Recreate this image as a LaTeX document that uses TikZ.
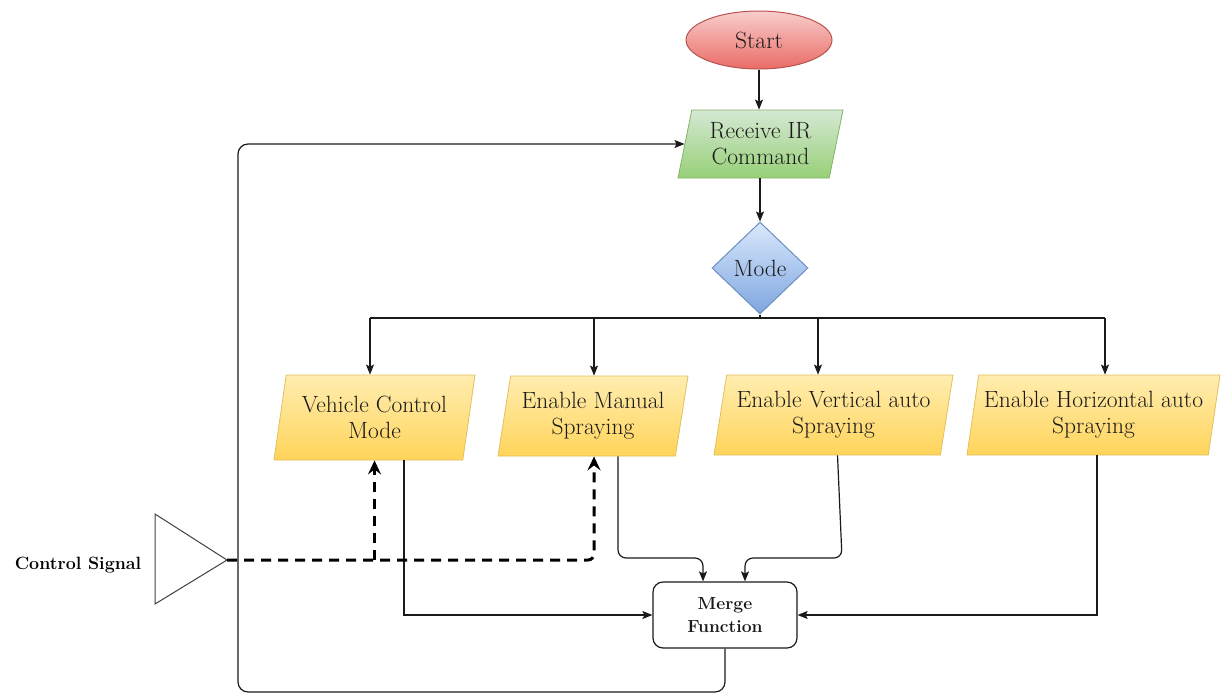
\documentclass[tikz,border=0pt]{standalone}
\usepackage{fontspec}
\usetikzlibrary{shapes.geometric,arrows.meta}
\definecolor{redtop}{HTML}{F8CECC}\definecolor{redbot}{HTML}{EA6B66}\definecolor{redline}{HTML}{B85450}
\definecolor{grntop}{HTML}{D5E8D4}\definecolor{grnbot}{HTML}{97D077}\definecolor{grnline}{HTML}{82B366}
\definecolor{blutop}{HTML}{DAE8FC}\definecolor{blubot}{HTML}{7EA6E0}\definecolor{bluline}{HTML}{6C8EBF}
\definecolor{yeltop}{HTML}{FFEDB0}\definecolor{yelbot}{HTML}{FFD45A}\definecolor{yelline}{HTML}{E0C060}
\definecolor{ink}{HTML}{1A1A1A}
\begin{document}
\begin{tikzpicture}[x=1pt,y=-1pt,
  font=\fontsize{23.5}{26}\selectfont, text=ink,
  line/.style={draw=ink, line width=1.2pt},
  arr/.style={line, -{Stealth[length=10pt,width=8pt,inset=2pt]}},
  dasharr/.style={draw=black, line width=3pt, dash pattern=on 10pt off 7pt, -{Stealth[length=14pt,width=13pt,inset=5pt]}},
  para/.style={trapezium, trapezium left angle=75, trapezium right angle=105,
    trapezium stretches body, inner sep=0pt, align=center, line width=0.8pt},
  yelbox/.style={para, draw=yelline, top color=yeltop, bottom color=yelbot},
]
\useasboundingbox (0,0) rectangle (1222,694);

% nodes
\node[ellipse, draw=redline, line width=1pt, top color=redtop, bottom color=redbot,
  minimum width=146, minimum height=58, inner sep=0] (start) at (759,40) {Start};
\node[para, trapezium left angle=72, trapezium right angle=108, draw=grnline,
  top color=grntop, bottom color=grnbot, minimum width=165, minimum height=68] (recv) at (760.5,144) {Receive IR\\Command};
\node[diamond, draw=bluline, line width=1pt, top color=blutop, bottom color=blubot,
  minimum width=96, minimum height=92, inner sep=0] (mode) at (760,268) {Mode};
\node[yelbox, trapezium left angle=74, trapezium right angle=106, minimum width=201, minimum height=85] (vcm) at (374.5,417.5) {Vehicle Control\\Mode};
\node[yelbox, minimum width=190, minimum height=80] (man) at (593,416) {Enable Manual\\Spraying};
\node[yelbox, minimum width=239, minimum height=80] (vert) at (833.5,415) {Enable Vertical auto\\Spraying};
\node[yelbox, trapezium left angle=76, trapezium right angle=104, minimum width=253, minimum height=80] (hor) at (1093.5,415) {Enable Horizontal auto\\Spraying};
\node[draw=ink, line width=1.2pt, rounded corners=10pt, fill=white, minimum width=144, minimum height=66,
  align=center, font=\bfseries\fontsize{17.5}{22.5}\selectfont] (merge) at (725,615) {Merge\\Function};
\node[font=\bfseries\fontsize{17.8}{22}\selectfont, text=black] (cs) at (78,565) {Control Signal};

% triangle
\coordinate (t1) at (155,514); \coordinate (tip) at (227,560); \coordinate (t3) at (155,604);
\draw[draw=black!75, line width=1pt] (t1) -- (tip) -- (t3) -- cycle;

% flow
\draw[arr] (start.south) -- (start.south |- recv.north);
\draw[arr] (recv.south -| mode.north) -- (mode.north);
\coordinate (busL) at (370,318); \coordinate (busR) at (1105,318);
\coordinate (bus2) at (594,318); \coordinate (bus3) at (818,318);
\draw[line] (mode.south) -- (mode.south |- busL);
\draw[line] (busL) -- (busR);
\draw[arr] (busL) -- (busL |- vcm.north);
\draw[arr] (bus2) -- (bus2 |- man.north);
\draw[arr] (bus3) -- (bus3 |- vert.north);
\draw[arr] (busR) -- (busR |- hor.north);

% to merge
\coordinate (mj1) at (703,558); \coordinate (mj2) at (745,558); \coordinate (vj) at (842,558);
\draw[arr] ([xshift=29.5pt]vcm.south) |- (merge.west);
\draw[arr, rounded corners=8pt] ([xshift=25pt]man.south) |- (mj1) -- (mj1 |- merge.north);
\draw[arr, rounded corners=8pt] ([xshift=4pt]vert.south) -- (vj) -- (mj2) -- (mj2 |- merge.north);
\draw[arr] ([xshift=3.5pt]hor.south) |- (merge.east);

% feedback
\coordinate (fbL) at (238,692);
\draw[arr, rounded corners=10pt] (merge.south) |- (fbL) |- (recv.west);

% control signal
\draw[dasharr, rounded corners=6pt] (tip) -| ([xshift=1pt]man.south);
\draw[dasharr] (vcm.south |- tip) -- (vcm.south);
\end{tikzpicture}
\end{document}
